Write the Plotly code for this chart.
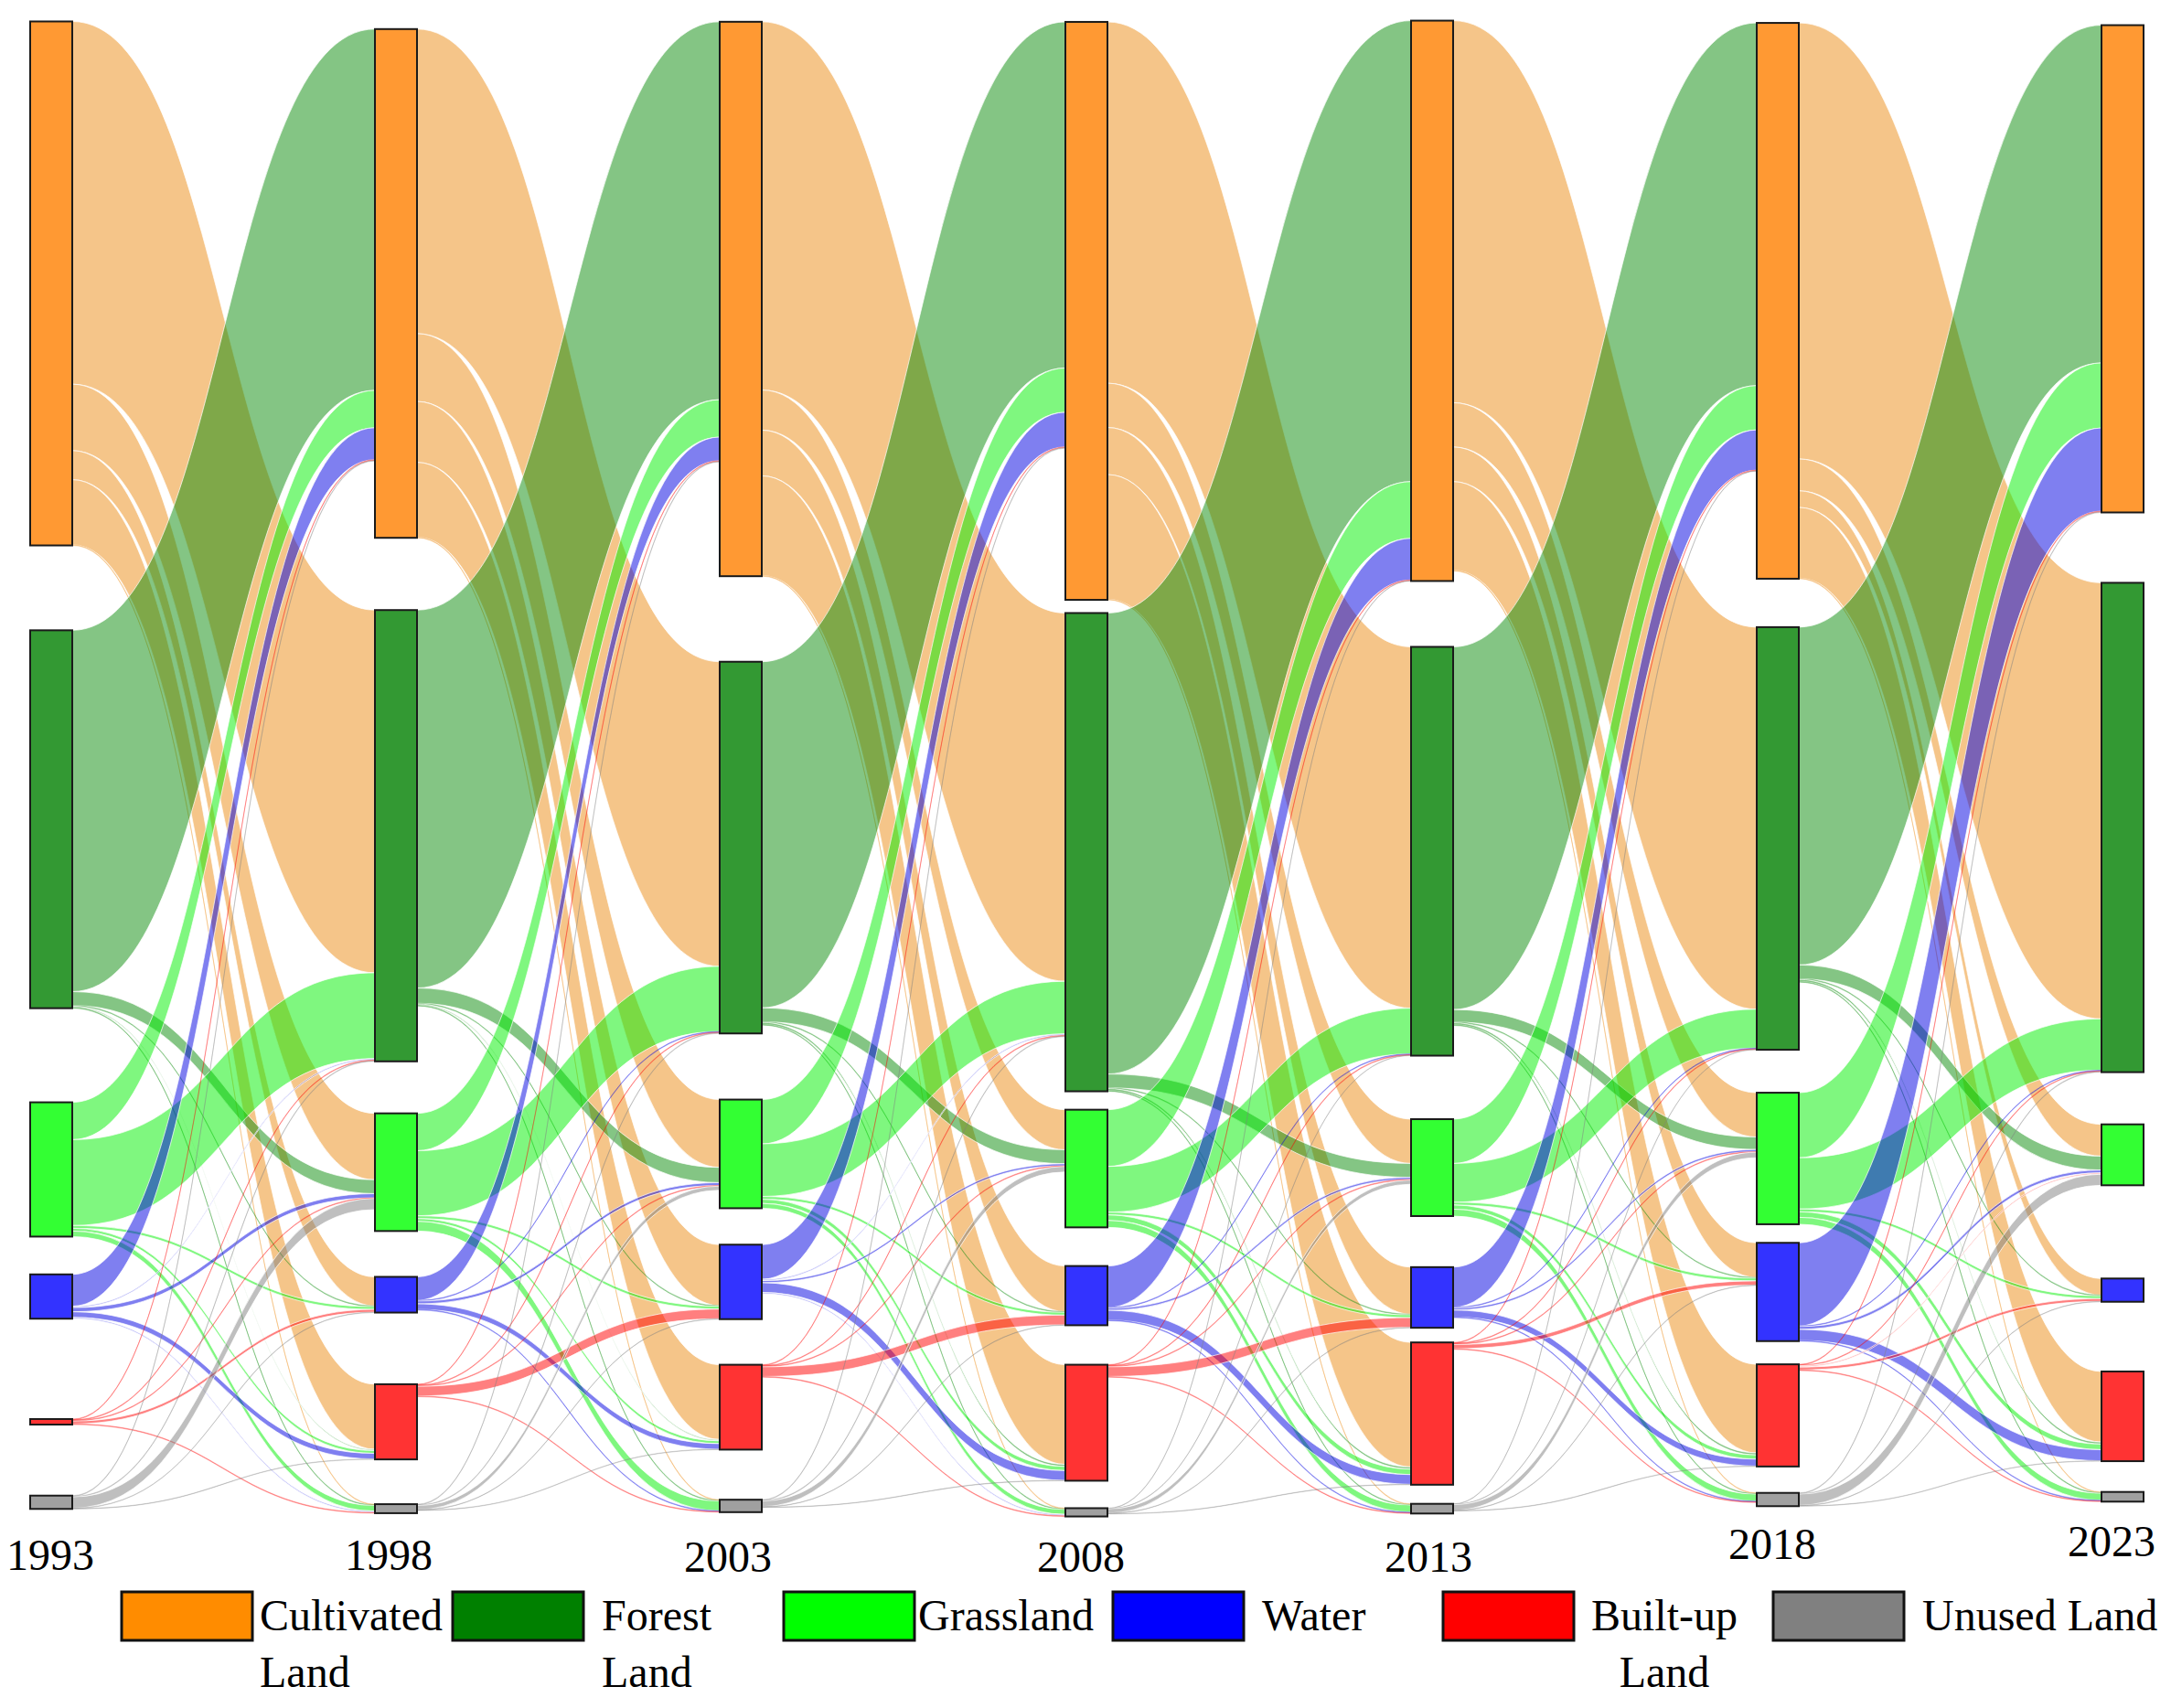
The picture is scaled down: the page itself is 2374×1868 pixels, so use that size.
import plotly.graph_objects as go

years = ["1993", "1998", "2003", "2008", "2013", "2018", "2023"]
classes = ["Cultivated Land", "Forest Land", "Grassland", "Water", "Built-up Land", "Unused Land"]

# transfer matrices, rows = from class, cols = to class
# order: Cultivated, Forest, Grassland, Water, Built-up, Unused
flows_1993_1998 = [
    [0, 262, 48, 21, 47, 0.5],
    [261, 0, 10, 0.5, 1, 0.5],
    [27, 62, 0, 2, 2, 4],
    [23, 1, 3, 0, 4, 1],
    [0.5, 0.5, 0.5, 2, 0, 0.5],
    [0.5, 0.5, 8, 0.3, 0.3, 0],
]
flows_1998_2003 = [
    [0, 220, 49, 44, 54, 0.5],
    [273, 0, 11, 0.5, 1, 0.5],
    [27, 47, 0, 2, 2, 7],
    [17, 0.5, 2, 0, 4, 0.5],
    [0.5, 0.5, 0.5, 7, 0, 0.5],
    [0.5, 0.5, 3, 0.3, 0.3, 0],
]
flows_2003_2008 = [
    [0, 266, 29, 33, 72, 0.5],
    [250, 0, 10, 0.5, 1.5, 0.5],
    [32, 38, 0, 2, 3, 3.5],
    [25, 1, 1.5, 0, 7, 1],
    [0.5, 0.5, 0.5, 7, 0, 0.5],
    [0.5, 0.5, 4, 0.3, 0.3, 0],
]
flows_2008_2013 = [
    [0, 261, 32, 34, 90, 0.5],
    [333, 0, 10, 0.5, 1.5, 0.5],
    [41, 33, 0, 2, 4, 5],
    [30, 0.5, 1.5, 0, 7, 0.5],
    [0.5, 0.5, 0.5, 7, 0, 0.5],
    [0.3, 0.3, 3, 0.3, 0.3, 0],
]
flows_2013_2018 = [
    [0, 276, 32, 25, 64, 0.5],
    [262, 0, 9, 0.5, 1.5, 0.5],
    [32, 28, 0, 2, 3, 5],
    [29, 0.5, 1.5, 0, 5, 0.5],
    [0.5, 0.5, 0.5, 3, 0, 0.5],
    [0.3, 0.3, 4, 0.3, 0.3, 0],
]
flows_2018_2023 = [
    [0, 315, 23, 12, 51, 0.5],
    [244, 0, 10, 0.5, 1.5, 0.5],
    [47, 37, 0, 2, 4, 5],
    [60, 0.5, 2, 0, 8, 0.5],
    [0.5, 0.5, 1, 2, 0, 0.5],
    [0.5, 0.5, 8, 0.3, 0.3, 0],
]
periods = [flows_1993_1998, flows_1998_2003, flows_2003_2008,
           flows_2008_2013, flows_2013_2018, flows_2018_2023]

# ---- layout / style ----
OFF = 8                      # page margin of the browser
W, H = 2374 - OFF, 1868 - OFF
plot_h = 1660                # height of the sankey domain, px
px_per_unit = 1.514
col_x = [56, 433, 810, 1188, 1566, 1944, 2321]
node_y = [                   # node centres, px from top
    [310, 896, 1279, 1418, 1555, 1643],
    [310, 914, 1282, 1416, 1555, 1650],
    [327, 927, 1262, 1402, 1539, 1647],
    [340, 932, 1278, 1417, 1556, 1654],
    [329, 931, 1277, 1419, 1546, 1650],
    [329, 917, 1267, 1413, 1548, 1640],
    [294, 905, 1263, 1411, 1549, 1637],
]
year_x = [55, 425, 796, 1182, 1562, 1938, 2309]
year_y = [1700, 1700, 1702, 1702, 1702, 1688, 1685]
node_colors = ["#FF9933", "#339933", "#33FF33", "#3333FF", "#FF3333", "#A0A0A0"]
link_rgb = ["236,140,20", "9,139,9", "0,240,0", "0,0,225", "255,0,0", "128,128,128"]
legend_colors = ["#FF8C00", "#008000", "#00FF00", "#0000FF", "#FF0000", "#808080"]
legend_x = [133, 495, 857, 1217, 1578, 1939]
legend_text_x = [282, 656, 1002, 1378, 1738, 2100]
legend_text = ["Cultivated<br>Land", "Forest<br>Land", "Grassland", "Water",
               "Built-up<br>Land", "Unused Land"]
font_family = "Liberation Serif"


def px(x):
    return (x - OFF) / W


def py(y):
    return 1 - (y - OFF) / H


n = len(classes)
labels, colors, xs, ys, custom = [], [], [], [], []
for t, yr in enumerate(years):
    for i, c in enumerate(classes):
        labels.append("")
        custom.append(f"{c} {yr}")
        colors.append(node_colors[i])
        xs.append((col_x[t] - OFF) / W)
        ys.append((node_y[t][i] - OFF) / plot_h)

src, tgt, val, lcol, lwid = [], [], [], [], []
for t, m in enumerate(periods):
    for i in range(n):
        for j in range(n):
            v = m[i][j]
            if v > 0:
                src.append(t * n + i)
                tgt.append((t + 1) * n + j)
                val.append(v)
                # hair-line links are drawn fainter, wide bands get a thin white edge
                alpha = 0.5 if v >= 1.5 else 0.28
                lcol.append(f"rgba({link_rgb[i]},{alpha})")
                lwid.append(0.8 if v >= 5 else 0)

# node size = max(in, out); pick padding so the scale matches the reference
col_sums = []
for t in range(len(years)):
    s = 0
    for i in range(n):
        inflow = sum(periods[t - 1][k][i] for k in range(n)) if t > 0 else 0
        outflow = sum(periods[t][i]) if t < len(periods) else 0
        s += max(inflow, outflow)
    col_sums.append(s)
pad = (plot_h - px_per_unit * max(col_sums)) / (n - 1)

fig = go.Figure(go.Sankey(
    arrangement="fixed",
    domain=dict(x=[0, 1], y=[1 - plot_h / H, 1]),
    node=dict(
        label=labels, customdata=custom, hovertemplate="%{customdata}<extra></extra>",
        color=colors, x=xs, y=ys, pad=pad, thickness=46,
        line=dict(color="#1a1a1a", width=2),
    ),
    link=dict(source=src, target=tgt, value=val, color=lcol,
              line=dict(color="rgba(255,255,255,0.7)", width=lwid)),
))

annotations = []
for t, yr in enumerate(years):
    annotations.append(dict(x=px(year_x[t]), y=py(year_y[t]), xref="paper", yref="paper",
                            text=yr, showarrow=False, xanchor="center", yanchor="middle",
                            font=dict(family=font_family, size=48, color="black")))
shapes = []
for k in range(n):
    shapes.append(dict(type="rect", xref="paper", yref="paper",
                       x0=px(legend_x[k]), x1=px(legend_x[k] + 143),
                       y0=py(1794), y1=py(1741),
                       fillcolor=legend_colors[k], line=dict(color="#111111", width=3)))
    annotations.append(dict(x=px(legend_text_x[k]), y=py(1738), xref="paper", yref="paper",
                            text=legend_text[k], showarrow=False, xanchor="left", yanchor="top",
                            align="center" if k == 4 else "left",
                            font=dict(family=font_family, size=48, color="black")))

fig.update_layout(width=W, height=H, margin=dict(l=0, r=0, t=0, b=0),
                  paper_bgcolor="white", plot_bgcolor="white",
                  annotations=annotations, shapes=shapes)

fig.write_html("out.html")
